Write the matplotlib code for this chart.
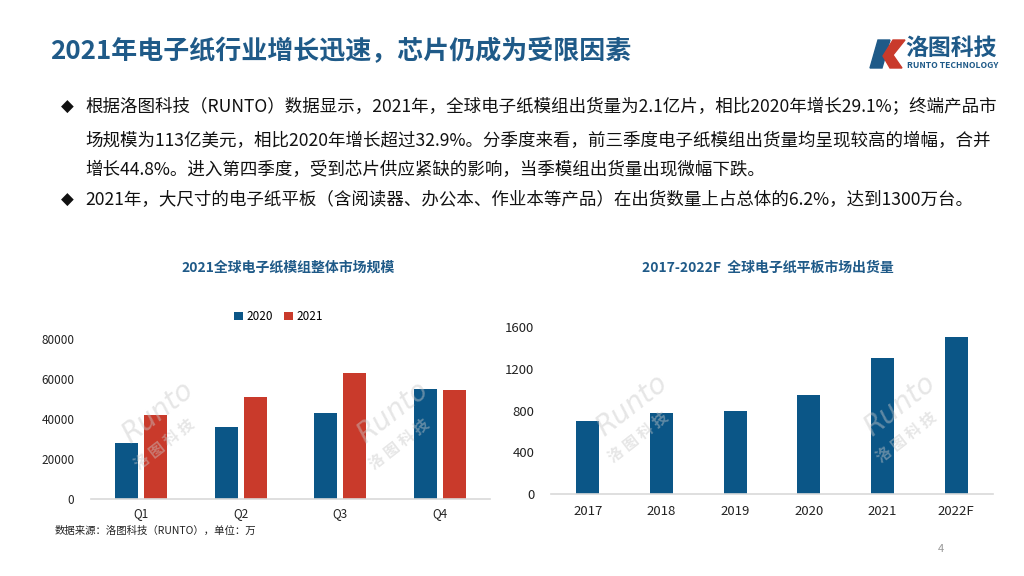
import matplotlib
matplotlib.use("Agg")
import matplotlib.pyplot as plt
from matplotlib.patches import Polygon

plt.rcParams['font.family'] = ['Noto Sans CJK SC', 'DejaVu Sans']

# data
quarters = ["Q1", "Q2", "Q3", "Q4"]
module_2020 = [28000, 36000, 43000, 55000]
module_2021 = [41800, 50800, 63000, 54500]
years = ["2017", "2018", "2019", "2020", "2021", "2022F"]
tablet_ship = [700, 780, 800, 950, 1300, 1500]

title = "2021年电子纸行业增长迅速，芯片仍成为受限因素"
bullet_lines = [
    ("◆", "根据洛图科技（RUNTO）数据显示，2021年，全球电子纸模组出货量为2.1亿片，相比2020年增长29.1%；终端产品市"),
    ("", "场规模为113亿美元，相比2020年增长超过32.9%。分季度来看，前三季度电子纸模组出货量均呈现较高的增幅，合并"),
    ("", "增长44.8%。进入第四季度，受到芯片供应紧缺的影响，当季模组出货量出现微幅下跌。"),
    ("◆", "2021年，大尺寸的电子纸平板（含阅读器、办公本、作业本等产品）在出货数量上占总体的6.2%，达到1300万台。"),
]
line_y = [107, 141, 170, 200]

blue = "#0B5687"
red = "#C93A2B"
title_blue = "#1F5A88"

W, H = 1024, 576
fig = plt.figure(figsize=(10.24, 5.76), dpi=100)
fig.patch.set_facecolor("white")

def fx(px):
    return px / W

def fy(py):
    return 1 - py / H

# header
fig.text(fx(50), fy(52), title, fontsize=18.7, fontweight="bold", color=title_blue, va="center", ha="left")

# logo
fig.patches.append(Polygon([[fx(878), fy(40)], [fx(890), fy(40)], [fx(882), fy(68)], [fx(870), fy(68)]],
                           closed=True, transform=fig.transFigure, color=title_blue))
fig.patches.append(Polygon([[fx(893), fy(40)], [fx(905), fy(40)], [fx(893), fy(55)], [fx(902), fy(68)], [fx(890), fy(68)], [fx(883), fy(56)]],
                           closed=True, transform=fig.transFigure, color=red))
fig.text(fx(905), fy(48), "洛图科技", fontsize=16.5, fontweight="bold", fontstyle="italic", color=title_blue, va="center", ha="left")
fig.text(fx(907), fy(66), "RUNTO TECHNOLOGY", fontsize=6.2, fontweight="bold", fontstyle="italic", color=title_blue, va="center", ha="left")

# bullet text
for (mark, txt), y in zip(bullet_lines, line_y):
    if mark:
        fig.text(fx(61), fy(y), mark, fontsize=12, color="#111111", va="center", ha="left", family=["DejaVu Sans"])
    fig.text(fx(85), fy(y), txt, fontsize=12.6, color="#111111", va="center", ha="left")

# left chart: quarterly module market
ax1 = fig.add_axes([fx(91), fy(499), fx(490) - fx(91), fy(339) - fy(499)])
xs = range(len(quarters))
w = 0.23
ax1.bar([x - 0.145 for x in xs], module_2020, width=w, color=blue, label="2020", zorder=2)
ax1.bar([x + 0.145 for x in xs], module_2021, width=w, color=red, label="2021", zorder=2)
ax1.set_xlim(-0.5, len(quarters) - 0.5)
ax1.set_ylim(0, 80000)
ax1.set_yticks([0, 20000, 40000, 60000, 80000])
ax1.set_xticks(list(xs))
ax1.set_xticklabels(quarters)
for s in ["top", "right", "left"]:
    ax1.spines[s].set_visible(False)
ax1.spines["bottom"].set_color("#D9D9D9")
ax1.spines["bottom"].set_linewidth(1.2)
ax1.tick_params(axis="both", length=0, labelsize=8.5, colors="#222222")
ax1.tick_params(axis="y", pad=12)
ax1.tick_params(axis="x", pad=6)
ax1.legend(loc="center", bbox_to_anchor=(0.47, 1.14), ncol=2, frameon=False, fontsize=8.5,
           handlelength=0.7, handleheight=0.7, handletextpad=0.3, columnspacing=1.0)
fig.text(fx(288), fy(268), "2021全球电子纸模组整体市场规模", fontsize=10, fontweight="bold", color=title_blue, ha="center", va="center")
fig.text(fx(55), fy(531), "数据来源：洛图科技（RUNTO），单位：万", fontsize=7.5, color="#222222", ha="left", va="center")

# right chart: tablet shipments
ax2 = fig.add_axes([fx(551), fy(494), fx(993) - fx(551), fy(327) - fy(494)])
xs2 = range(len(years))
ax2.bar(list(xs2), tablet_ship, width=0.31, color=blue, zorder=2)
ax2.set_xlim(-0.5, len(years) - 0.5)
ax2.set_ylim(0, 1600)
ax2.set_yticks([0, 400, 800, 1200, 1600])
ax2.set_xticks(list(xs2))
ax2.set_xticklabels(years)
for s in ["top", "right", "left"]:
    ax2.spines[s].set_visible(False)
ax2.spines["bottom"].set_color("#D9D9D9")
ax2.spines["bottom"].set_linewidth(1.2)
ax2.tick_params(axis="both", length=0, labelsize=9.5, colors="#222222")
ax2.tick_params(axis="y", pad=12)
ax2.tick_params(axis="x", pad=8)
fig.text(fx(768), fy(268), "2017-2022F  全球电子纸平板市场出货量", fontsize=10, fontweight="bold", color=title_blue, ha="center", va="center")

# watermarks
for (px, py) in [(158, 412), (393, 412), (632, 405), (900, 405)]:
    fig.text(fx(px), fy(py), "Runto", fontsize=20, fontstyle="italic", color="#C8C8C8", alpha=0.45,
             rotation=38, ha="center", va="center", family=["DejaVu Sans"])
    fig.text(fx(px + 6), fy(py + 32), "洛 图 科 技", fontsize=11, fontweight="bold", color="#C8C8C8", alpha=0.45,
             rotation=38, ha="center", va="center")

fig.text(fx(941), fy(549), "4", fontsize=8, color="#999999", ha="center", va="center")

fig.savefig("out.png", dpi=100)
